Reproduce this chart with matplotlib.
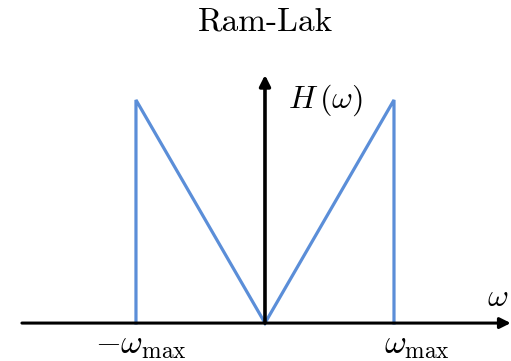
import matplotlib.pyplot as plt

plt.rcParams['mathtext.fontset'] = 'cm'

# Ram-Lak filter: |omega| inside the band, dropping to zero at +-omega_max
omega = [-1.0, -1.0, 0.0, 1.0, 1.0]
response = [0.0, 1.0, 0.0, 1.0, 0.0]
tick_labels = [r'$-\omega_{\max}$', r'$\omega_{\max}$']
tick_pos = [-0.96, 1.18]

fig = plt.figure(figsize=(5.11, 3.61), dpi=100)
ax = fig.add_axes([0, 0, 1, 1])
ax.set_xlim(-2.054, 1.907)
ax.set_ylim(-0.170, 1.448)
ax.axis('off')

ax.plot(omega, response, color='#5b8ed8', lw=2.3, solid_joinstyle='miter', zorder=2)

# axes with arrow heads
ax.annotate('', xy=(1.905, 0), xytext=(-1.884, 0),
            arrowprops=dict(arrowstyle='-|>', lw=2.2, color='black',
                            mutation_scale=16, shrinkA=0, shrinkB=0), zorder=3)
ax.annotate('', xy=(0, 1.112), xytext=(0, 0),
            arrowprops=dict(arrowstyle='-|>', lw=2.6, color='black',
                            mutation_scale=16, shrinkA=0, shrinkB=0), zorder=3)

ax.text(0.18, 1.0, r'$H\,(\omega)$', fontsize=23, ha='left', va='center')
ax.text(1.806, 0.115, r'$\omega$', fontsize=23, ha='center', va='center')
for x, lab in zip(tick_pos, tick_labels):
    ax.text(x, -0.098, lab, fontsize=24, ha='center', va='center')

ax.text(0, 1.35, 'Ram-Lak', fontsize=24, family='cmr10', ha='center', va='center')

fig.savefig('out.png', dpi=100)
